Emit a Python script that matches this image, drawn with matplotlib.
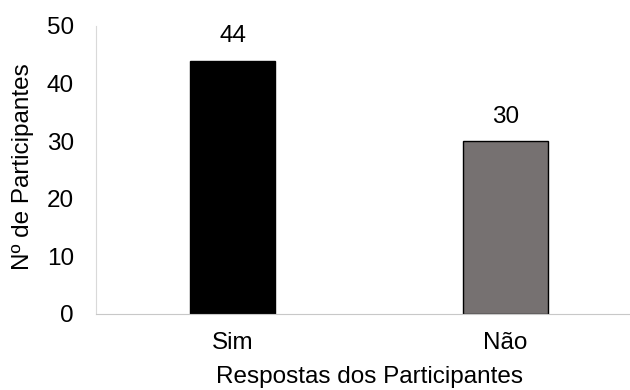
import matplotlib.pyplot as plt

plt.rcParams['font.family'] = ['Liberation Sans', 'DejaVu Sans']

respostas = ["Sim", "Não"]
participantes = [44, 30]
cores = ["#000000", "#767171"]

fig = plt.figure(figsize=(6.3, 3.9), dpi=100)
ax = fig.add_axes([96 / 630, 76 / 390, 546 / 630, 288 / 390])

x = range(len(respostas))
bars = ax.bar(x, participantes, width=0.315, color=cores, edgecolor="black", linewidth=1)

# valor em cima de cada barra
for b, v in zip(bars, participantes):
    ax.text(b.get_x() + b.get_width() / 2, v + 4.2, str(v),
            ha="center", va="center", fontsize=17.5)

ax.set_xlim(-0.5, 1.5)
ax.set_ylim(0, 50)
ax.set_yticks([0, 10, 20, 30, 40, 50])
ax.set_xticks(list(x))
ax.set_xticklabels(respostas)

ax.tick_params(axis="both", length=0, labelsize=17.5)
ax.tick_params(axis="y", pad=16)
ax.tick_params(axis="x", pad=13)

for s in ["top", "right"]:
    ax.spines[s].set_visible(False)
ax.spines["left"].set_color("#d9d9d9")
ax.spines["bottom"].set_color("#c8c8c8")

ax.set_ylabel("Nº de Participantes", fontsize=17.5)
ax.set_xlabel("Respostas dos Participantes", fontsize=17.5)
ax.yaxis.set_label_coords(-62 / 546, 0.51)
ax.xaxis.set_label_coords(0.5, -52 / 288)

fig.savefig("out.png", dpi=100)
